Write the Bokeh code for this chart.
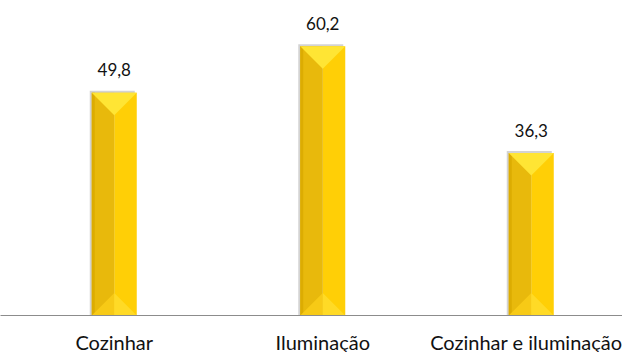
from bokeh.plotting import figure
from bokeh.models import Range1d, FixedTicker, ColumnDataSource
from bokeh.core.properties import value
from bokeh.embed import file_html
from bokeh.resources import INLINE

categories = ["Cozinhar", "Iluminação", "Cozinhar e iluminação"]
values = [49.8, 60.2, 36.3]
value_labels = ["49,8", "60,2", "36,3"]

FONT = "Lato"
xs = list(range(len(categories)))

FW, FH = 622, 315
X0, X1 = -0.5456, 2.4376
Y1 = 70.4

p = figure(frame_width=FW, frame_height=FH, output_backend="svg",
           toolbar_location=None, y_axis_location=None,
           x_range=Range1d(X0, X1), y_range=Range1d(0, Y1),
           min_border_left=0, min_border_right=0, min_border_top=0, min_border_bottom=0)
p.outline_line_color = None
p.xgrid.visible = False
p.ygrid.visible = False
p.background_fill_color = "white"

px_per_x = FW / (X1 - X0)
px_per_y = FH / Y1
w = 45 / px_per_x
bev = (w / 2) * px_per_x / px_per_y  # 45-degree bevel depth in data units
sh_x = 2 / px_per_x
sh_y = 2 / px_per_y
edge = 3 / px_per_x

# shadow
p.vbar(x=[c - sh_x for c in xs], width=w, top=[v + sh_y for v in values], bottom=0,
       fill_color="#a8a8a8", fill_alpha=0.5, line_color=None)
# left half (darker) and right half (lighter)
p.vbar(x=[c - w / 4 for c in xs], width=w / 2, top=values, bottom=0,
       fill_color="#E8B90C", line_color=None)
p.vbar(x=[c + w / 4 for c in xs], width=w / 2, top=values, bottom=0,
       fill_color="#FFCF06", line_color=None)
# left edge strip
p.vbar(x=[c - w / 2 + edge / 2 for c in xs], width=edge, top=values, bottom=0,
       fill_color="#DCAC02", line_color=None)
# top bevel triangle
p.patches(xs=[[c - w / 2, c + w / 2, c] for c in xs],
          ys=[[v, v, v - bev] for v in values],
          fill_color="#FFE534", line_color=None)
# bottom bevel triangles
p.patches(xs=[[c - w / 2, c, c] for c in xs],
          ys=[[0, 0, bev] for v in values],
          fill_color="#F7CA16", line_color=None)
p.patches(xs=[[c, c + w / 2, c] for c in xs],
          ys=[[0, 0, bev] for v in values],
          fill_color="#FFDA26", line_color=None)

# value labels
src = ColumnDataSource(dict(x=xs, y=values, t=value_labels))
p.text(x="x", y="y", text="t", source=src, text_align="center",
       text_baseline="alphabetic", y_offset=-23,
       text_font=value(FONT), text_font_size="17px", text_color="#111111")

ax = p.xaxis[0]
ax.ticker = FixedTicker(ticks=xs)
ax.major_label_overrides = {i: c for i, c in zip(xs, categories)}
ax.major_tick_line_color = None
ax.minor_tick_line_color = None
ax.axis_line_color = "#8c8c8c"
ax.axis_line_width = 1
ax.major_label_standoff = 8
ax.major_label_text_font = FONT
ax.major_label_text_font_size = "20px"
ax.major_label_text_color = "#111111"

open("out.html", "w").write(file_html(p, INLINE))
